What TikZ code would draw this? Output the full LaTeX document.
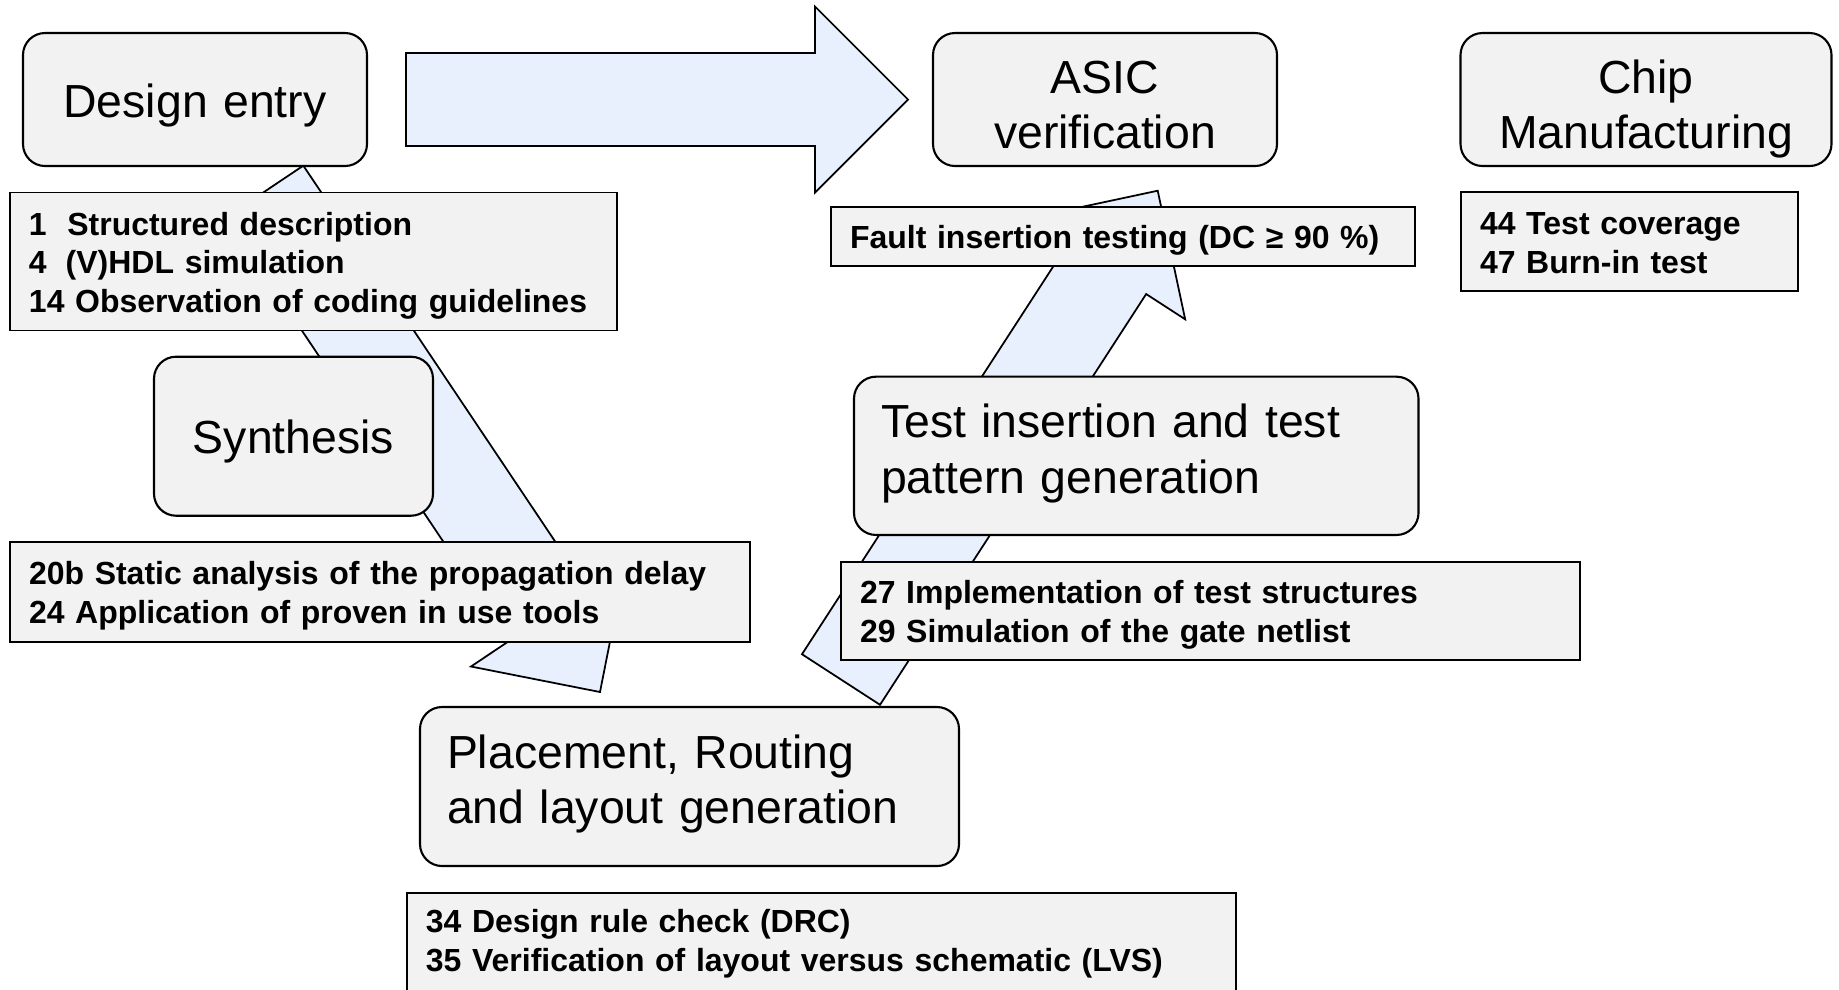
\documentclass[tikz,border=0pt]{standalone}
\usepackage{fontspec}
\setmainfont{Liberation Sans}
\usepackage{xcolor}
\definecolor{stagegray}{RGB}{242,242,242}
\definecolor{flowblue}{RGB}{232,240,253}
\usetikzlibrary{arrows.meta,positioning,calc}

% block arrow: name, tail, tip
\newcommand{\flowarrow}[3]{%
  \coordinate (#1-b) at ($(#3)!0.93cm!(#2)$);
  \draw[flowbody] ($(#2)!0.465cm!90:(#3)$) -- ($(#1-b)!0.465cm!-90:(#2)$)
    -- ($(#1-b)!0.93cm!-90:(#2)$) -- (#3) -- ($(#1-b)!0.93cm!90:(#2)$)
    -- ($(#1-b)!0.465cm!90:(#2)$) -- ($(#2)!0.465cm!-90:(#3)$) -- cycle;
}

\begin{document}
\begin{tikzpicture}[
  stage/.style={draw=black, fill=stagegray, rounded corners=0.22cm, line width=0.6pt,
    font=\fontsize{13.2}{15.8}\selectfont, align=center, inner xsep=0.1cm, inner ysep=0pt},
  stagelines/.style={execute at begin node={\rule{0pt}{12.9pt}},
    execute at end node={\rule[-2.8pt]{0pt}{2.8pt}}},
  twolines/.style={stagelines, execute at begin node={\rule{0pt}{14.9pt}}},
  leftstage/.style={stage, align=left, inner xsep=0.27cm,
    execute at end node={\rule[-4.2pt]{0pt}{4.2pt}}},
  notes/.style={draw=black, fill=stagegray, line width=0.5pt,
    font=\fontsize{9.1}{11}\selectfont\bfseries, align=left,
    inner xsep=0.19cm, inner ysep=0pt,
    execute at begin node={\rule{0pt}{8.9pt}},
    execute at end node={\rule[-1.93pt]{0pt}{1.93pt}}},
  flowbody/.style={draw=black, fill=flowblue, line width=0.5pt, line join=miter}
]
\useasboundingbox (0,0) rectangle (18.39,-9.89);

% Arrow ends
\coordinate (rtail) at (4.06,-0.995);
\coordinate (rtip) at (9.08,-0.995);
\coordinate (dtail) at (2.647,-1.915);
\coordinate (dtip) at (6.00,-6.92);
\coordinate (utail) at (8.41,-6.795);
\coordinate (utip) at (11.577,-1.907);

% Flow arrows (behind the boxes)
\flowarrow{right}{rtail}{rtip}
\flowarrow{down}{dtail}{dtip}
\flowarrow{up}{utail}{utip}

% Top row
\node[stage, stagelines, text width=3.24cm, minimum height=1.33cm] (design) at (1.95,-0.995) {Design entry};
\node[stage, twolines, text width=3.24cm, minimum height=1.33cm] (asic) at (11.05,-0.995) {ASIC\\verification};
\node[stage, twolines, text width=3.51cm, minimum height=1.33cm] (chip) at (16.46,-0.995) {Chip\\Manufacturing};

% Notes under the top row
\node[notes, text width=5.69cm, minimum height=1.38cm] (entrynotes) at (3.135,-2.615)
  {\makebox[1.2em][l]{1}Structured description\\\makebox[1.15em][l]{4}(V)HDL simulation\\14 Observation of coding guidelines};
\node[notes, text width=5.46cm, minimum height=0.593cm] (faultnotes) at (11.23,-2.3635)
  {Fault insertion testing (DC ≥ 90 \%)};
\node[notes, text width=2.99cm, minimum height=0.99cm] (chipnotes) at (16.295,-2.415)
  {44 Test coverage\\47 Burn-in test};

% Synthesis
\node[stage, stagelines, text width=2.59cm, minimum height=1.59cm] (synth) at (2.935,-4.362) {Synthesis};
\node[notes, text width=7.02cm, minimum height=1.00cm] (synthnotes) at (3.80,-5.92)
  {20b Static analysis of the propagation delay\\24 Application of proven in use tools};

% Test insertion
\node[leftstage, text width=5.105cm, minimum height=1.583cm] (testins) at (11.3625,-4.558)
  {Test insertion and test\\pattern generation};
\node[notes, text width=7.01cm, minimum height=0.98cm] (testnotes) at (12.105,-6.11)
  {27 Implementation of test structures\\29 Simulation of the gate netlist};

% Placement and routing
\node[leftstage, text width=4.85cm, minimum height=1.59cm] (place) at (6.895,-7.865)
  {Placement, Routing\\and layout generation};
\node[notes, anchor=north west, text width=7.91cm, inner ysep=0.087cm,
  execute at end node={\rule[-0.2cm]{0pt}{0.2cm}}] (placenotes) at (4.06,-8.92)
  {34 Design rule check (DRC)\\35 Verification of layout versus schematic (LVS)};

\end{tikzpicture}
\end{document}
